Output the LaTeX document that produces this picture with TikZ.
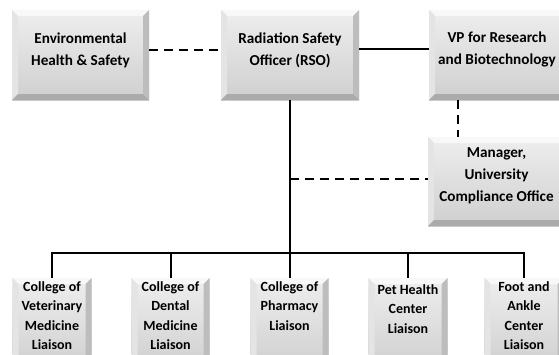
\documentclass[tikz,border=0pt]{standalone}
\usepackage{fontspec}
\setmainfont{Carlito}
\usetikzlibrary{calc}

\definecolor{boxtop}{HTML}{EEEEEE}
\definecolor{boxbot}{HTML}{CFCFCF}
\definecolor{bevhi}{HTML}{F8F8F8}
\definecolor{bevside}{HTML}{E4E4E4}
\definecolor{bevdark}{HTML}{BDBDBD}
\definecolor{bevlow}{HTML}{ABABAB}

\tikzset{
  bevelbox/.style={rectangle, inner sep=0pt, top color=boxtop, bottom color=boxbot,
    path picture={
      \coordinate (nw) at (path picture bounding box.north west);
      \coordinate (ne) at (path picture bounding box.north east);
      \coordinate (sw) at (path picture bounding box.south west);
      \coordinate (se) at (path picture bounding box.south east);
      \fill[bevhi] (nw) -- (ne) -- ($(ne)+(-6pt,-6pt)$) -- ($(nw)+(6pt,-6pt)$) -- cycle;
      \fill[bevside] (nw) -- (sw) -- ($(sw)+(6pt,6pt)$) -- ($(nw)+(6pt,-6pt)$) -- cycle;
      \fill[bevdark] (ne) -- (se) -- ($(se)+(-6pt,6pt)$) -- ($(ne)+(-6pt,-6pt)$) -- cycle;
      \fill[bevlow] (sw) -- (se) -- ($(se)+(-6pt,6pt)$) -- ($(sw)+(6pt,6pt)$) -- cycle;
    }},
  topbox/.style={bevelbox, minimum height=90pt},
  lowbox/.style={bevelbox, minimum height=92pt, minimum width=79pt},
  toptext/.style={align=center, font=\fontsize{15.2}{22}\selectfont\bfseries, inner sep=0pt},
  lowtext/.style={align=center, font=\fontsize{14}{19.5}\selectfont\bfseries, inner sep=0pt, anchor=north},
  solidline/.style={line width=2pt},
  dashline/.style={line width=2.4pt, dash pattern=on 9pt off 6pt},
}

\begin{document}
\begin{tikzpicture}[x=1pt, y=-1pt]
\useasboundingbox[fill=white] (0,0) rectangle (559,354);

% upper level
\node[topbox, minimum width=137pt] (ehs) at (80.5,55) {};
\node[topbox, minimum width=138pt] (rso) at (290,55) {};
\node[topbox, minimum width=136pt] (vp) at (497,55) {};
\node[topbox, minimum width=137pt, minimum height=89pt] (mgr) at (496.5,181.5) {};

\node[toptext] (ehstxt) at (80.5,50.5) {Environmental\\Health \& Safety};
\node[toptext] (rsotxt) at (290,50.5) {Radiation Safety\\Officer (RSO)};
\node[toptext] (vptxt) at (497,49.5) {VP for Research\\and Biotechnology};
\node[toptext] (mgrtxt) at (496.5,175.5) {Manager,\\University\\Compliance Office};

% liaison level
\node[lowbox] (b1) at (52,324) {};
\node[lowbox, minimum width=78pt] (b2) at (170.5,324) {};
\node[lowbox, minimum width=78pt] (b3) at (289.5,324) {};
\node[lowbox] (b4) at (408,324) {};
\node[lowbox] (b5) at (524,324) {};

\node[lowtext] (t1) at (52,281) {College of\\Veterinary\\Medicine\\Liaison};
\node[lowtext] (t2) at (170.5,281) {College of\\Dental\\Medicine\\Liaison};
\node[lowtext] (t3) at (289.5,281) {College of\\Pharmacy\\Liaison};
\node[lowtext] (t4) at (408,284) {Pet Health\\Center\\Liaison};
\node[lowtext] (t5) at (524,281) {Foot and\\Ankle\\Center\\Liaison};

% connectors
\coordinate (bus) at (290,253);
\coordinate (tap) at (290,179);
\coordinate (vptap) at (458,100);

\draw[dashline] (ehs.east |- 0,50) -- (rso.west |- 0,50);
\draw[solidline] (rso.east |- 0,49) -- (vp.west |- 0,49);
\draw[solidline] (rso.south) -- (bus);
\draw[dashline] (tap) -- (tap -| mgr.west);
\draw[dashline] (vptap) -- (vptap |- mgr.north);
\draw[solidline] (b1.north) |- (bus) -| (b5.north);
\draw[solidline] (b2.north) -- (b2.north |- bus);
\draw[solidline] (b3.north) -- (b3.north |- bus);
\draw[solidline] (b4.north) -- (b4.north |- bus);
\end{tikzpicture}
\end{document}
